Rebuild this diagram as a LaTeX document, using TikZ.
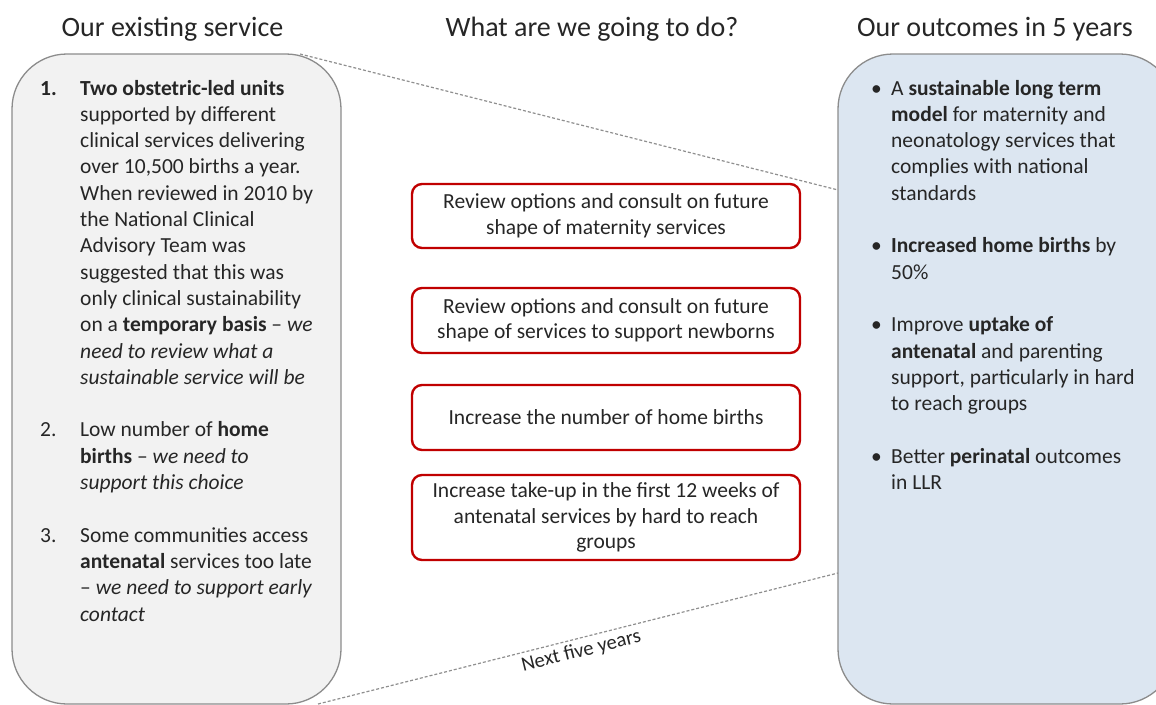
\documentclass[tikz,border=0pt]{standalone}
\usepackage{fontspec}
\setmainfont{Carlito}
\usepackage{array}
\definecolor{panelgray}{HTML}{F2F2F2}
\definecolor{panelblue}{HTML}{DCE6F1}
\definecolor{edgegray}{HTML}{8C8C8C}
\definecolor{boxred}{HTML}{C00000}
\definecolor{linkgray}{HTML}{8F8F8F}
\definecolor{txt}{HTML}{262626}
\begin{document}
\begin{tikzpicture}[x=1pt,y=-1pt,
  title/.style={font=\fontsize{28}{34}\selectfont, inner sep=0, anchor=base, text=txt},
  listtext/.style={font=\fontsize{21.5}{26.3}\selectfont, inner sep=0, anchor=base west, text=txt},
  actbox/.style={draw=boxred, line width=2.4pt, rounded corners=10pt, fill=white,
    minimum width=388pt, align=center, inner sep=0, text=txt,
    font=\fontsize{21.5}{25.5}\selectfont},
  panel/.style={draw=edgegray, line width=1.3pt, rounded corners=55pt, rectangle, inner sep=0},
  link/.style={draw=linkgray, line width=1.2pt, dash pattern=on 3pt off 2pt}
]
\useasboundingbox (0,0) rectangle (1156,704);
\clip (0,0) rectangle (1156,704);

% titles
\node[title] (t1) at (172.5,36) {Our existing service};
\node[title] (t2) at (592,36) {What are we going to do?};
\node[title] (t3) at (995,36) {Our outcomes in 5 years};

% panels
\node[panel, fill=panelgray, minimum width=329pt, minimum height=650pt] (left) at (176.5,379) {};
\node[panel, fill=panelblue, minimum width=337pt, minimum height=650pt] (right) at (1006.5,379) {};

% dashed links
\coordinate (la) at (300,54);
\coordinate (ra) at (838,190);
\coordinate (lb) at (318,704);
\coordinate (rb) at (838,573);
\draw[link] (la) -- (ra);
\draw[link] (lb) -- node[sloped, below, font=\fontsize{20.5}{24}\selectfont, text=txt, inner sep=4pt, pos=0.5] (nfy) {Next five years} (rb);

% left list
\node[listtext] (leftlist) at (40,95) {%
\begin{tabular}[t]{@{}p{40pt}@{}l@{}}
\textbf{1.} & \textbf{Two obstetric-led units}\\
 & supported by different\\
 & clinical services delivering\\
 & over 10,500 births a year.\\
 & When reviewed in 2010 by\\
 & the National Clinical\\
 & Advisory Team was\\
 & suggested that this was\\
 & only clinical sustainability\\
 & on a \textbf{temporary basis} -- \textit{we}\\
 & \textit{need to review what a}\\
 & \textit{sustainable service will be}\\
 & \\
2. & Low number of \textbf{home}\\
 & \textbf{births} -- \textit{we need to}\\
 & \textit{support this choice}\\
 & \\
3. & Some communities access\\
 & \textbf{antenatal} services too late\\
 & -- \textit{we need to support early}\\
 & \textit{contact}
\end{tabular}};

% right list
\node[listtext] (rightlist) at (871,95) {%
\begin{tabular}[t]{@{}p{20pt}@{}l@{}}
\textbullet & A \textbf{sustainable long term}\\
 & \textbf{model} for maternity and\\
 & neonatology services that\\
 & complies with national\\
 & standards\\
 & \\
\textbullet & \textbf{Increased home births} by\\
 & 50\%\\
 & \\
\textbullet & Improve \textbf{uptake of}\\
 & \textbf{antenatal} and parenting\\
 & support, particularly in hard\\
 & to reach groups\\
 & \\
\textbullet & Better \textbf{perinatal} outcomes\\
 & in LLR
\end{tabular}};

% middle action boxes
\node[actbox, minimum height=64pt, text depth=4pt] (a1) at (606,216) {Review options and consult on future\\shape of maternity services};
\node[actbox, minimum height=65pt] (a2) at (606,320.5) {Review options and consult on future\\shape of services to support newborns};
\node[actbox, minimum height=65pt] (a3) at (606,417.5) {Increase the number of home births};
\node[actbox, minimum height=85pt] (a4) at (606,517.5) {Increase take-up in the first 12 weeks of\\antenatal services by hard to reach\\groups};
\end{tikzpicture}
\end{document}
